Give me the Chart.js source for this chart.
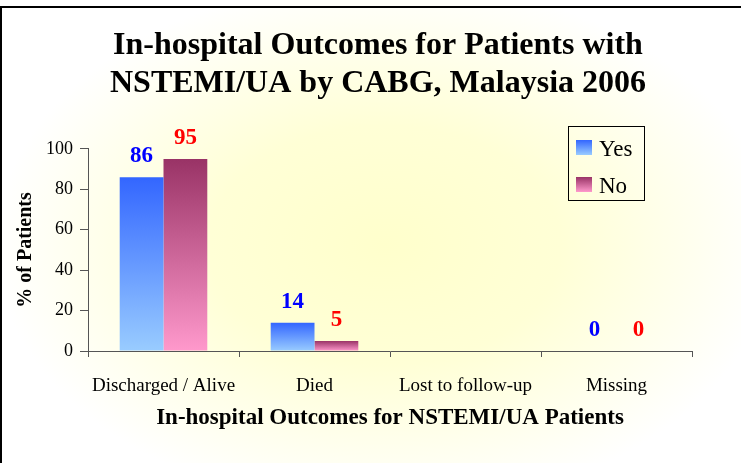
<!DOCTYPE html>
<html>
<head>
<meta charset="utf-8">
<script src="https://cdn.jsdelivr.net/npm/chart.js@4/dist/chart.umd.min.js"></script>
<style>
  body { margin: 0; background: #fff; }
  canvas { display: block; }
</style>
</head>
<body>
<canvas id="grafico" width="741" height="463"></canvas>
<script>
const categorias = ['Discharged / Alive', 'Died', 'Lost to follow-up', 'Missing'];
const valoresYes = [86, 14, null, 0];
const valoresNo = [95, 5, null, 0];
const tituloLinhas = ['In-hospital Outcomes for Patients with', 'NSTEMI/UA by CABG, Malaysia 2006'];
const tituloX = 'In-hospital Outcomes for NSTEMI/UA Patients';
const tituloY = '% of Patients';

const fonte = "'Liberation Serif', 'Times New Roman', serif";
const coresYes = ['#3366FF', '#99CCFF'];
const coresNo = ['#993366', '#FF99CC'];
const coresRotulo = ['#0000FF', '#FF0000'];

function gradienteBarra(cores) {
  return (context) => {
    const chart = context.chart;
    const valor = context.raw;
    if (!chart.chartArea || valor == null || context.type !== 'data') return cores[0];
    const y = chart.scales.y;
    const topo = y.getPixelForValue(valor);
    const base = y.getPixelForValue(0);
    if (base - topo < 1) return cores[0];
    const g = chart.ctx.createLinearGradient(0, topo, 0, base);
    g.addColorStop(0, cores[0]);
    g.addColorStop(1, cores[1]);
    return g;
  };
}

// fundo amarelado + moldura
const fundoPlugin = {
  id: 'fundo',
  beforeDraw(chart) {
    const c = chart.ctx;
    const w = chart.width, h = chart.height;
    c.save();
    c.fillStyle = '#ffffff';
    c.fillRect(0, 0, w, h);
    c.translate(385, 245);
    c.scale(1, 0.68);
    const g = c.createRadialGradient(0, 0, 0, 0, 0, 390);
    g.addColorStop(0, '#FFFFCC');
    g.addColorStop(0.45, '#FFFFD6');
    g.addColorStop(1, '#FFFFFF');
    c.fillStyle = g;
    c.fillRect(-400, -400, 800, 800);
    c.restore();
    c.save();
    c.fillStyle = '#000';
    c.fillRect(0, 6, w, 2);
    c.fillRect(0, 6, 2, h - 6);
    c.restore();
  }
};

const rotulosPlugin = {
  id: 'rotulos',
  afterDatasetsDraw(chart) {
    const c = chart.ctx;
    c.save();
    c.font = 'bold 23px ' + fonte;
    c.textAlign = 'center';
    c.textBaseline = 'middle';
    chart.data.datasets.forEach((ds, i) => {
      const meta = chart.getDatasetMeta(i);
      c.fillStyle = coresRotulo[i];
      meta.data.forEach((barra, j) => {
        if (ds.data[j] == null) return;
        c.fillText(String(ds.data[j]), barra.x, barra.y - 21);
      });
    });
    c.restore();
  }
};

const legendaPlugin = {
  id: 'legenda',
  afterDraw(chart) {
    const c = chart.ctx;
    c.save();
    c.strokeStyle = '#000';
    c.lineWidth = 1;
    c.strokeRect(568.5, 126.5, 76, 74);
    c.font = '23px ' + fonte;
    c.textBaseline = 'middle';
    c.textAlign = 'left';
    const cores = [coresYes, coresNo];
    chart.data.datasets.forEach((ds, i) => {
      const ty = 140 + i * 37;
      const g = c.createLinearGradient(0, ty, 0, ty + 15);
      g.addColorStop(0, cores[i][0]);
      g.addColorStop(1, cores[i][1]);
      c.fillStyle = g;
      c.fillRect(576, ty, 16, 15);
      c.fillStyle = '#000';
      c.fillText(ds.label, 599, ty + 9.5);
    });
    c.restore();
  }
};

new Chart(document.getElementById('grafico'), {
  type: 'bar',
  data: {
    labels: categorias,
    datasets: [
      { label: 'Yes', data: valoresYes, backgroundColor: gradienteBarra(coresYes) },
      { label: 'No', data: valoresNo, backgroundColor: gradienteBarra(coresNo) }
    ]
  },
  options: {
    responsive: false,
    animation: false,
    devicePixelRatio: 1,
    categoryPercentage: 0.58,
    barPercentage: 1,
    layout: { padding: { left: 15, right: 0, top: 0, bottom: 0 } },
    plugins: {
      legend: { display: false },
      tooltip: { enabled: false },
      title: {
        display: true,
        text: tituloLinhas,
        color: '#000',
        font: { family: fonte, size: 32, weight: 'bold', lineHeight: 1.21 },
        padding: { top: 26, bottom: 45.5 }
      }
    },
    scales: {
      x: {
        afterFit(scale) { scale.height = 112; },
        grid: { display: true, drawOnChartArea: false, drawTicks: true, tickLength: 6, color: '#555', offset: true },
        border: { display: true, color: '#555', width: 1 },
        ticks: { color: '#000', padding: 18, maxRotation: 0, font: { family: fonte, size: 19 } },
        title: {
          display: true,
          text: tituloX,
          color: '#000',
          font: { family: fonte, size: 23, weight: 'bold' },
          padding: { top: 0, bottom: 31 }
        }
      },
      y: {
        min: 0,
        max: 100,
        afterFit(scale) { scale.width = 73; },
        grid: { display: true, drawOnChartArea: false, drawTicks: true, tickLength: 8, color: '#555' },
        border: { display: true, color: '#555', width: 1 },
        ticks: { stepSize: 20, color: '#000', padding: 7, font: { family: fonte, size: 18 } },
        title: {
          display: true,
          text: tituloY,
          color: '#000',
          font: { family: fonte, size: 20, weight: 'bold' },
          padding: { top: -1, bottom: 0 }
        }
      },
      // espaço vazio à direita do gráfico
      espaco: {
        type: 'linear',
        position: 'right',
        display: true,
        afterFit(scale) { scale.width = 49; },
        grid: { display: false },
        border: { display: false },
        ticks: { display: false }
      }
    }
  },
  plugins: [fundoPlugin, rotulosPlugin, legendaPlugin]
});
</script>
</body>
</html>
